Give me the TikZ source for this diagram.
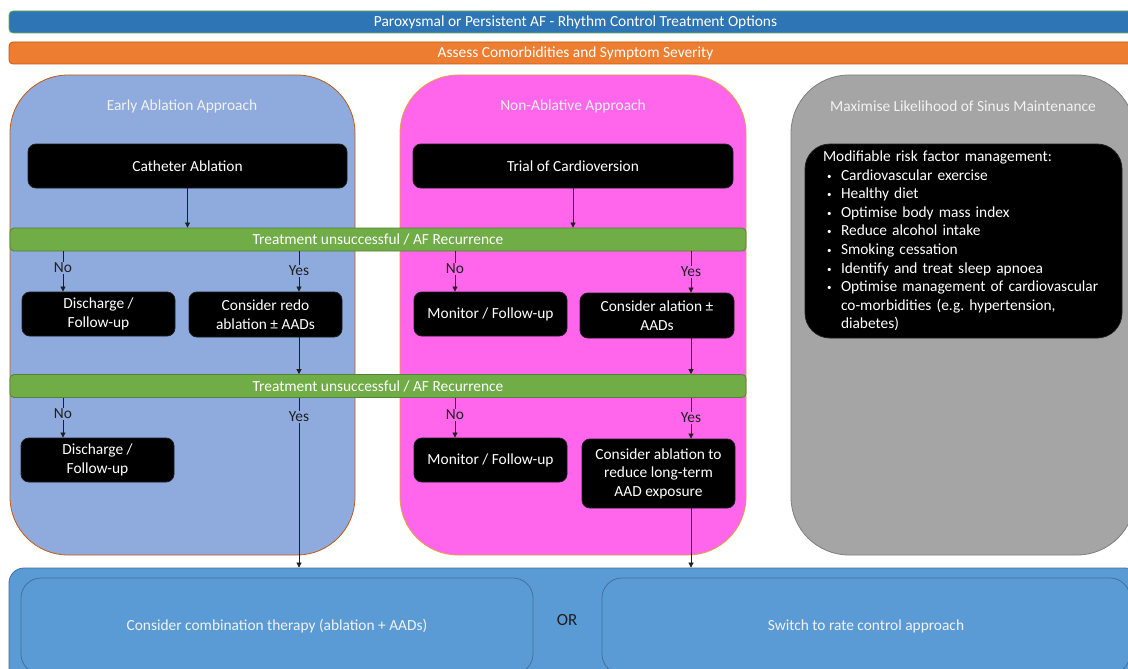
\documentclass[tikz,border=0pt]{standalone}
\usepackage{fontspec}
\setmainfont{Carlito}
\usetikzlibrary{arrows.meta,positioning,calc}
\definecolor{hdrblue}{HTML}{2E75B6}
\definecolor{hdrline}{HTML}{70AD47}
\definecolor{assess}{HTML}{ED7D31}
\definecolor{assessdk}{HTML}{C55A11}
\definecolor{early}{HTML}{8FAADC}
\definecolor{nonabl}{HTML}{FF66EB}
\definecolor{nonabldk}{HTML}{E0A63A}
\definecolor{sinus}{HTML}{A5A5A5}
\definecolor{sinusdk}{HTML}{7F7F7F}
\definecolor{recur}{HTML}{70AD47}
\definecolor{recurdk}{HTML}{548235}
\definecolor{outcome}{HTML}{5B9BD5}
\definecolor{outcomedk}{HTML}{41719C}
\definecolor{ink}{HTML}{1F1F1F}
\definecolor{pale}{HTML}{F2F2F2}
\newcommand\fs{\fontsize{15.4}{18.6}\selectfont}
\newcommand\bul{\makebox[18pt][l]{\hspace{4pt}\raisebox{1pt}{\fontsize{9}{9}\selectfont\textbullet}}}
\tikzset{
  every node/.style={font=\fs},
  bar/.style={rounded corners=4pt,draw=#1,line width=0.8pt,text=white,inner sep=0pt,
    minimum height=22pt},
  panel/.style={rounded corners=58pt,fill=#1,line width=0.8pt,minimum width=345pt,
    minimum height=480pt},
  ttl/.style={text=pale,inner sep=0pt},
  act/.style={rounded corners=8pt,fill=black,draw=ink,line width=0.8pt,text=white,
    align=center,inner sep=0pt},
  lbl/.style={text=ink,inner sep=1pt},
  arr/.style={-{Triangle[length=5pt,width=5pt]},line width=0.7pt,draw=ink},
  lnk/.style={line width=0.7pt,draw=ink},
  opt/.style={rounded corners=20pt,fill=outcome,draw=outcomedk,line width=0.8pt,text=pale},
}
\begin{document}
\begin{tikzpicture}[x=1pt,y=-1pt]
  \path[use as bounding box,clip] (0,0) rectangle (1128,669);
  \fill[white] (0,0) rectangle (1128,669);

  \node[bar=hdrline,fill=hdrblue,minimum width=1133pt] (hdr) at (575.5,22) {Paroxysmal or Persistent AF - Rhythm Control Treatment Options};
  \node[bar=assessdk,fill=assess,minimum width=1133pt] (asm) at (575.5,53) {Assess Comorbidities and Symptom Severity};

  \node[panel=early,draw=assessdk] (early) at (182.5,315) {};
  \node[panel=nonabl,draw=nonabldk,minimum width=346pt] (nonab) at (573,315) {};
  \node[panel=sinus,draw=sinusdk,minimum width=344pt] (sinus) at (963,315) {};
  \node[ttl] (tEarly) at (182,106) {Early Ablation Approach};
  \node[ttl] (tNonab) at (573,106) {Non-Ablative Approach};
  \node[ttl] (tSinus) at (963,106) {Maximise Likelihood of Sinus Maintenance};

  \node[act,minimum width=319pt,minimum height=44pt] (cath) at (187.5,166) {Catheter Ablation};
  \node[act,minimum width=320pt,minimum height=44pt] (trial) at (573,166) {Trial of Cardioversion};

  \node[bar=recurdk,fill=recur,minimum width=736pt,minimum height=23pt] (rec1) at (378,239.5) {Treatment unsuccessful / AF Recurrence};
  \node[bar=recurdk,fill=recur,minimum width=736pt,minimum height=23pt] (rec2) at (378,386) {Treatment unsuccessful / AF Recurrence};

  \node[act,minimum width=153pt,minimum height=44pt] (dis1) at (98.5,314) {Discharge /\\Follow-up};
  \node[act,minimum width=153pt,minimum height=45pt] (redo) at (265.5,314.5) {Consider redo\\ablation ± AADs};
  \node[act,minimum width=153pt,minimum height=44pt] (mon1) at (490.5,314) {Monitor / Follow-up};
  \node[act,minimum width=154pt,minimum height=45pt] (alat) at (657,315.5) {Consider alation ±\\AADs};
  \node[act,minimum width=153pt,minimum height=44pt] (dis2) at (97.5,460) {Discharge /\\Follow-up};
  \node[act,minimum width=153pt,minimum height=44pt] (mon2) at (490.5,460) {Monitor / Follow-up};
  \node[act,minimum width=153pt,minimum height=69pt] (redu) at (658.5,473.5) {Consider ablation to\\reduce long-term\\AAD exposure};

  \node[act,rounded corners=25pt,minimum width=317pt,minimum height=194pt,text width=281pt,align=left] (risk) at (963.5,241) {Modifiable risk factor management:\\
    \bul Cardiovascular exercise\\
    \bul Healthy diet\\
    \bul Optimise body mass index\\
    \bul Reduce alcohol intake\\
    \bul Smoking cessation\\
    \bul Identify and treat sleep apnoea\\
    \bul Optimise management of cardiovascular\\
    \hspace*{18pt}co-morbidities (e.g.\ hypertension,\\
    \hspace*{18pt}diabetes)};

  \node[lbl] (no1) at (63,268) {No};
  \node[lbl] (yes1) at (299,271) {Yes};
  \node[lbl] (no2) at (455,269) {No};
  \node[lbl] (yes2) at (691,272) {Yes};
  \node[lbl] (no3) at (63,414) {No};
  \node[lbl] (yes3) at (299,417) {Yes};
  \node[lbl] (no4) at (455,415) {No};
  \node[lbl] (yes4) at (691,418) {Yes};

  \node[rounded corners=15pt,fill=outcome,draw=outcomedk,line width=0.8pt,minimum width=1131pt,minimum height=132pt] (outc) at (574.5,634) {};
  \node[opt,minimum width=512pt,minimum height=96pt] (combo) at (277,626) {Consider combination therapy (ablation + AADs)};
  \node[opt,minimum width=528pt,minimum height=96pt] (rate) at (866,626) {Switch to rate control approach};
  \node[text=ink,font=\fontsize{17}{20}\selectfont] (orw) at (567,620) {OR};

  \draw[arr] (cath) -- (cath |- rec1.north);
  \draw[arr] (trial) -- (trial |- rec1.north);

  \draw[lnk] (no1 |- rec1.south) -- (no1);
  \draw[arr] (no1) -- (no1 |- dis1.north);
  \draw[lnk] (yes1 |- rec1.south) -- (yes1);
  \draw[arr] (yes1) -- (yes1 |- redo.north);
  \draw[lnk] (no2 |- rec1.south) -- (no2);
  \draw[arr] (no2) -- (no2 |- mon1.north);
  \draw[lnk] (yes2 |- rec1.south) -- (yes2);
  \draw[arr] (yes2) -- (yes2 |- alat.north);

  \draw[arr] (yes1 |- redo.south) -- (yes1 |- rec2.north);
  \draw[arr] (yes2 |- alat.south) -- (yes2 |- rec2.north);

  \draw[lnk] (no3 |- rec2.south) -- (no3);
  \draw[arr] (no3) -- (no3 |- dis2.north);
  \draw[lnk] (yes3 |- rec2.south) -- (yes3);
  \draw[arr] (yes3) -- (yes3 |- outc.north);
  \draw[lnk] (no4 |- rec2.south) -- (no4);
  \draw[arr] (no4) -- (no4 |- mon2.north);
  \draw[lnk] (yes4 |- rec2.south) -- (yes4);
  \draw[arr] (yes4) -- (yes4 |- redu.north);
  \draw[arr] (yes4 |- redu.south) -- (yes4 |- outc.north);
\end{tikzpicture}
\end{document}
